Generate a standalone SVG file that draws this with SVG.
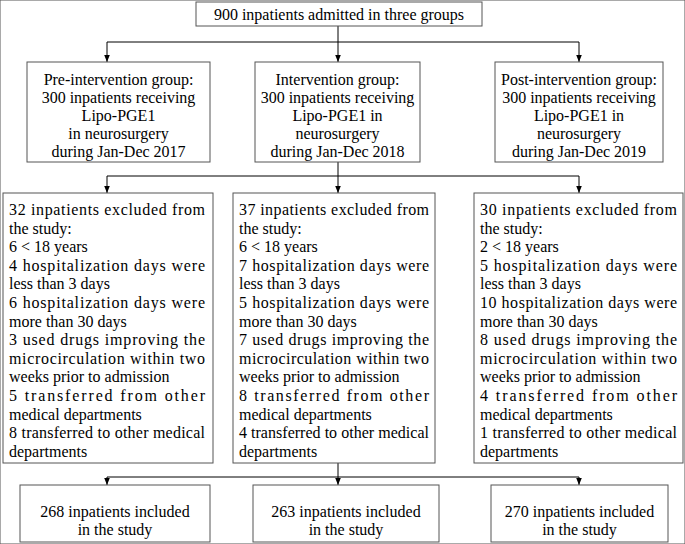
<svg xmlns="http://www.w3.org/2000/svg" width="685" height="544" viewBox="0 0 685 544" font-family="'Liberation Serif', 'Times New Roman', 'DejaVu Serif', serif" font-size="16">
<defs><marker id="a" viewBox="0 0 10 10" refX="10" refY="5" markerWidth="7" markerHeight="7" orient="auto"><path d="M0,1 L10,5 L0,9 z" fill="#000"/></marker></defs>
<style>
rect{fill:#fff;stroke:#555;stroke-width:1}
text{font-family:'Liberation Serif','Times New Roman',serif;font-size:16px;fill:#000}
.c{text-anchor:middle}
line{stroke:#000;stroke-width:1;fill:none}
</style>
<rect width="685" height="544" fill="#fff" stroke="none"/>
<g id="connectors">
<line x1="338" y1="26" x2="338" y2="42"/>
<line x1="107" y1="42" x2="579" y2="42"/>
<line x1="107" y1="42" x2="107" y2="62" marker-end="url(#a)"/>
<line x1="338" y1="42" x2="338" y2="62" marker-end="url(#a)"/>
<line x1="579" y1="42" x2="579" y2="62" marker-end="url(#a)"/>
<line x1="338" y1="162" x2="338" y2="176"/>
<line x1="107" y1="176" x2="579" y2="176"/>
<line x1="107" y1="176" x2="107" y2="193" marker-end="url(#a)"/>
<line x1="338" y1="176" x2="338" y2="193" marker-end="url(#a)"/>
<line x1="579" y1="176" x2="579" y2="193" marker-end="url(#a)"/>
<line x1="338" y1="463" x2="338" y2="477"/>
<line x1="107" y1="477" x2="579" y2="477"/>
<line x1="107" y1="477" x2="107" y2="485" marker-end="url(#a)"/>
<line x1="338" y1="477" x2="338" y2="485" marker-end="url(#a)"/>
<line x1="579" y1="477" x2="579" y2="485" marker-end="url(#a)"/>
</g>
<g id="top"><rect x="196" y="2" width="286" height="24"/><text class="c" x="339" y="20">900 inpatients admitted in three groups</text></g>
<g id="pre"><rect x="27" y="62" width="183" height="100"/>
<text class="c"><tspan x="118.5" y="85">Pre-intervention group:</tspan><tspan x="118.5" y="103">300 inpatients receiving</tspan><tspan x="118.5" y="121">Lipo-PGE1</tspan><tspan x="118.5" y="139">in neurosurgery</tspan><tspan x="118.5" y="157">during Jan-Dec 2017</tspan></text></g>
<g id="int"><rect x="255" y="62" width="165" height="100"/>
<text class="c"><tspan x="337.5" y="85">Intervention group:</tspan><tspan x="337.5" y="103">300 inpatients receiving</tspan><tspan x="337.5" y="121">Lipo-PGE1 in</tspan><tspan x="337.5" y="139">neurosurgery</tspan><tspan x="337.5" y="157">during Jan-Dec 2018</tspan></text></g>
<g id="post"><rect x="495" y="62" width="168" height="100"/>
<text class="c"><tspan x="579" y="85">Post-intervention group:</tspan><tspan x="579" y="103">300 inpatients receiving</tspan><tspan x="579" y="121">Lipo-PGE1 in</tspan><tspan x="579" y="139">neurosurgery</tspan><tspan x="579" y="157">during Jan-Dec 2019</tspan></text></g>
<g id="exc1"><rect x="3" y="193" width="210" height="270"/>
<text x="9" y="215" textLength="196" lengthAdjust="spacing">32 inpatients excluded from</text>
<text x="9" y="233.6">the study:</text>
<text x="9" y="252.2">6 &lt; 18 years</text>
<text x="9" y="270.8" textLength="196" lengthAdjust="spacing">4 hospitalization days were</text>
<text x="9" y="289.4">less than 3 days</text>
<text x="9" y="308" textLength="196" lengthAdjust="spacing">6 hospitalization days were</text>
<text x="9" y="326.6">more than 30 days</text>
<text x="9" y="345.2" textLength="196" lengthAdjust="spacing">3 used drugs improving the</text>
<text x="9" y="363.8" textLength="196" lengthAdjust="spacing">microcirculation within two</text>
<text x="9" y="382.4">weeks prior to admission</text>
<text x="9" y="401" textLength="196" lengthAdjust="spacing">5 transferred from other</text>
<text x="9" y="419.6">medical departments</text>
<text x="9" y="438.2" textLength="196" lengthAdjust="spacing">8 transferred to other medical</text>
<text x="9" y="456.8">departments</text></g>
<g id="exc2"><rect x="233" y="193" width="202" height="270"/>
<text x="239" y="215" textLength="190" lengthAdjust="spacing">37 inpatients excluded from</text>
<text x="239" y="233.6">the study:</text>
<text x="239" y="252.2">6 &lt; 18 years</text>
<text x="239" y="270.8" textLength="190" lengthAdjust="spacing">7 hospitalization days were</text>
<text x="239" y="289.4">less than 3 days</text>
<text x="239" y="308" textLength="190" lengthAdjust="spacing">5 hospitalization days were</text>
<text x="239" y="326.6">more than 30 days</text>
<text x="239" y="345.2" textLength="190" lengthAdjust="spacing">7 used drugs improving the</text>
<text x="239" y="363.8" textLength="190" lengthAdjust="spacing">microcirculation within two</text>
<text x="239" y="382.4">weeks prior to admission</text>
<text x="239" y="401" textLength="190" lengthAdjust="spacing">8 transferred from other</text>
<text x="239" y="419.6">medical departments</text>
<text x="239" y="438.2" textLength="190" lengthAdjust="spacing">4 transferred to other medical</text>
<text x="239" y="456.8">departments</text></g>
<g id="exc3"><rect x="474" y="193" width="209" height="270"/>
<text x="480" y="215" textLength="197" lengthAdjust="spacing">30 inpatients excluded from</text>
<text x="480" y="233.6">the study:</text>
<text x="480" y="252.2">2 &lt; 18 years</text>
<text x="480" y="270.8" textLength="197" lengthAdjust="spacing">5 hospitalization days were</text>
<text x="480" y="289.4">less than 3 days</text>
<text x="480" y="308" textLength="197" lengthAdjust="spacing">10 hospitalization days were</text>
<text x="480" y="326.6">more than 30 days</text>
<text x="480" y="345.2" textLength="197" lengthAdjust="spacing">8 used drugs improving the</text>
<text x="480" y="363.8" textLength="197" lengthAdjust="spacing">microcirculation within two</text>
<text x="480" y="382.4">weeks prior to admission</text>
<text x="480" y="401" textLength="197" lengthAdjust="spacing">4 transferred from other</text>
<text x="480" y="419.6">medical departments</text>
<text x="480" y="438.2" textLength="197" lengthAdjust="spacing">1 transferred to other medical</text>
<text x="480" y="456.8">departments</text></g>
<g id="inc1"><rect x="20" y="485" width="190" height="57"/><text class="c"><tspan x="115" y="517">268 inpatients included</tspan><tspan x="115" y="535">in the study</tspan></text></g>
<g id="inc2"><rect x="253" y="485" width="186" height="57"/><text class="c"><tspan x="346" y="517">263 inpatients included</tspan><tspan x="346" y="535">in the study</tspan></text></g>
<g id="inc3"><rect x="491" y="485" width="177" height="57"/><text class="c"><tspan x="579.5" y="517">270 inpatients included</tspan><tspan x="579.5" y="535">in the study</tspan></text></g>
</svg>
